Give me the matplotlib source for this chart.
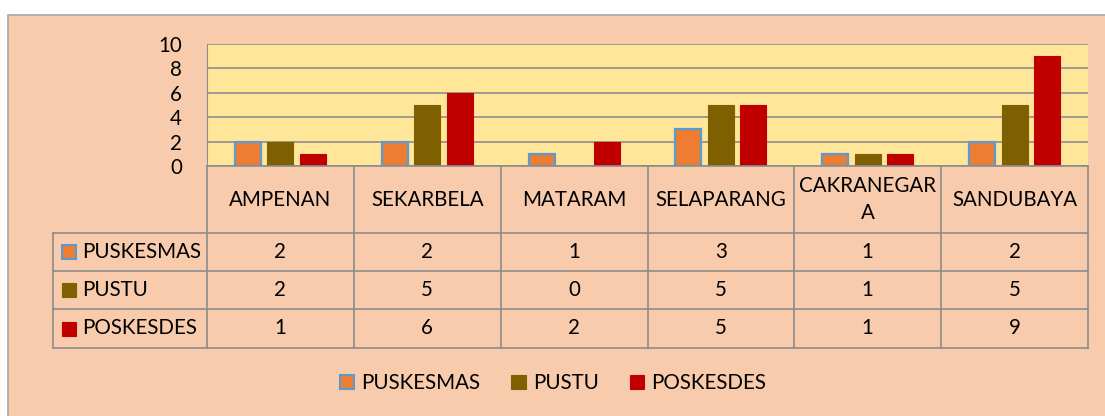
import matplotlib
matplotlib.use("Agg")
import matplotlib.pyplot as plt
from matplotlib.patches import Rectangle, Patch
import numpy as np

plt.rcParams['font.family'] = ['Lato', 'DejaVu Sans']

# data
categories = ['AMPENAN', 'SEKARBELA', 'MATARAM', 'SELAPARANG', 'CAKRANEGAR\nA', 'SANDUBAYA']
series_names = ['PUSKESMAS', 'PUSTU', 'POSKESDES']
puskesmas = [2, 2, 1, 3, 1, 2]
pustu = [2, 5, 0, 5, 1, 5]
poskesdes = [1, 6, 2, 5, 1, 9]
y_ticks = [0, 2, 4, 6, 8, 10]

series = [puskesmas, pustu, poskesdes]
colors = ['#ED7D31', '#7F6000', '#C00000']
edges = ['#5B9BD5', '#7F6000', '#C00000']
grid_col = '#8C8C8C'
fs = 14.8

W, H = 1105, 416
fig = plt.figure(figsize=(W / 100, H / 100), dpi=100)
fig.patch.set_facecolor('white')

# chart background box (runs off the right and bottom edges)
fig.patches.append(Rectangle((8 / W, -0.05), 1.1, 1 - 15 / H + 0.05, transform=fig.transFigure,
                             facecolor='#F8CBAD', edgecolor='#A6A6A6', lw=1.2, zorder=-5))

def px_axes(x0, y0, x1, y1):
    return fig.add_axes([x0 / W, 1 - y1 / H, (x1 - x0) / W, (y1 - y0) / H])

# bar plot area
ax = px_axes(207, 44, 1088, 166)
ax.set_facecolor('#FFE699')
x = np.arange(len(categories))
bw = 0.177
step = 0.221
for k, (vals, c, e) in enumerate(zip(series, colors, edges)):
    ax.bar(x + (k - 1) * step, vals, width=bw, color=c, edgecolor=e,
           linewidth=1.6 if k == 0 else 0.8, zorder=3)
ax.set_xlim(-0.5, len(categories) - 0.5)
ax.set_ylim(0, 10)
ax.set_yticks(y_ticks)
ax.set_xticks([])
ax.tick_params(axis='y', length=0, pad=18, labelsize=fs)
ax.grid(axis='y', color=grid_col, lw=1.2, zorder=1)
for s in ['top', 'right']:
    ax.spines[s].set_visible(False)
ax.spines['left'].set_color(grid_col)
ax.spines['bottom'].set_visible(False)

# data table below the bars
col_w = 881 / len(categories)
lab_w = 154 / col_w
tab = px_axes(53, 166, 1088, 348)
tab.set_xlim(-0.5 - lab_w, len(categories) - 0.5)
tab.set_ylim(182, 0)
tab.axis('off')
row_y = [0, 67, 105, 143, 182]
lkw = dict(color=grid_col, lw=1.2, clip_on=False)
tab.plot([-0.5, len(categories) - 0.5], [0, 0], **lkw)
for yy in row_y[1:]:
    tab.plot([-0.5 - lab_w, len(categories) - 0.5], [yy, yy], **lkw)
tab.plot([-0.5 - lab_w] * 2, [67, 182], **lkw)
for b in np.arange(len(categories) + 1) - 0.5:
    tab.plot([b, b], [0, 182], **lkw)

for i, cat in enumerate(categories):
    tab.text(i, 33.5, cat, ha='center', va='center', fontsize=fs, linespacing=1.45)
for r, (name, vals, c, e) in enumerate(zip(series_names, series, colors, edges)):
    yc = (row_y[r + 1] + row_y[r + 2]) / 2
    tab.add_patch(Rectangle((-0.5 - lab_w + 9 / col_w, yc - 7), 14 / col_w, 14,
                            facecolor=c, edgecolor=e, lw=1.5 if r == 0 else 0.8))
    tab.text(-0.5 - lab_w + 29 / col_w, yc, name, ha='left', va='center', fontsize=fs)
    for i, v in enumerate(vals):
        tab.text(i, yc, str(v), ha='center', va='center', fontsize=fs)

# legend
handles = [Patch(facecolor=c, edgecolor=e, lw=1.5 if k == 0 else 0.8)
           for k, (c, e) in enumerate(zip(colors, edges))]
fig.legend(handles, series_names, loc='center', bbox_to_anchor=(553 / W, 1 - 383 / H),
           ncol=3, frameon=False, fontsize=fs, handlelength=0.7, handleheight=0.7,
           handletextpad=0.35, columnspacing=1.5)

fig.savefig('out.png', dpi=100, facecolor=fig.get_facecolor())
